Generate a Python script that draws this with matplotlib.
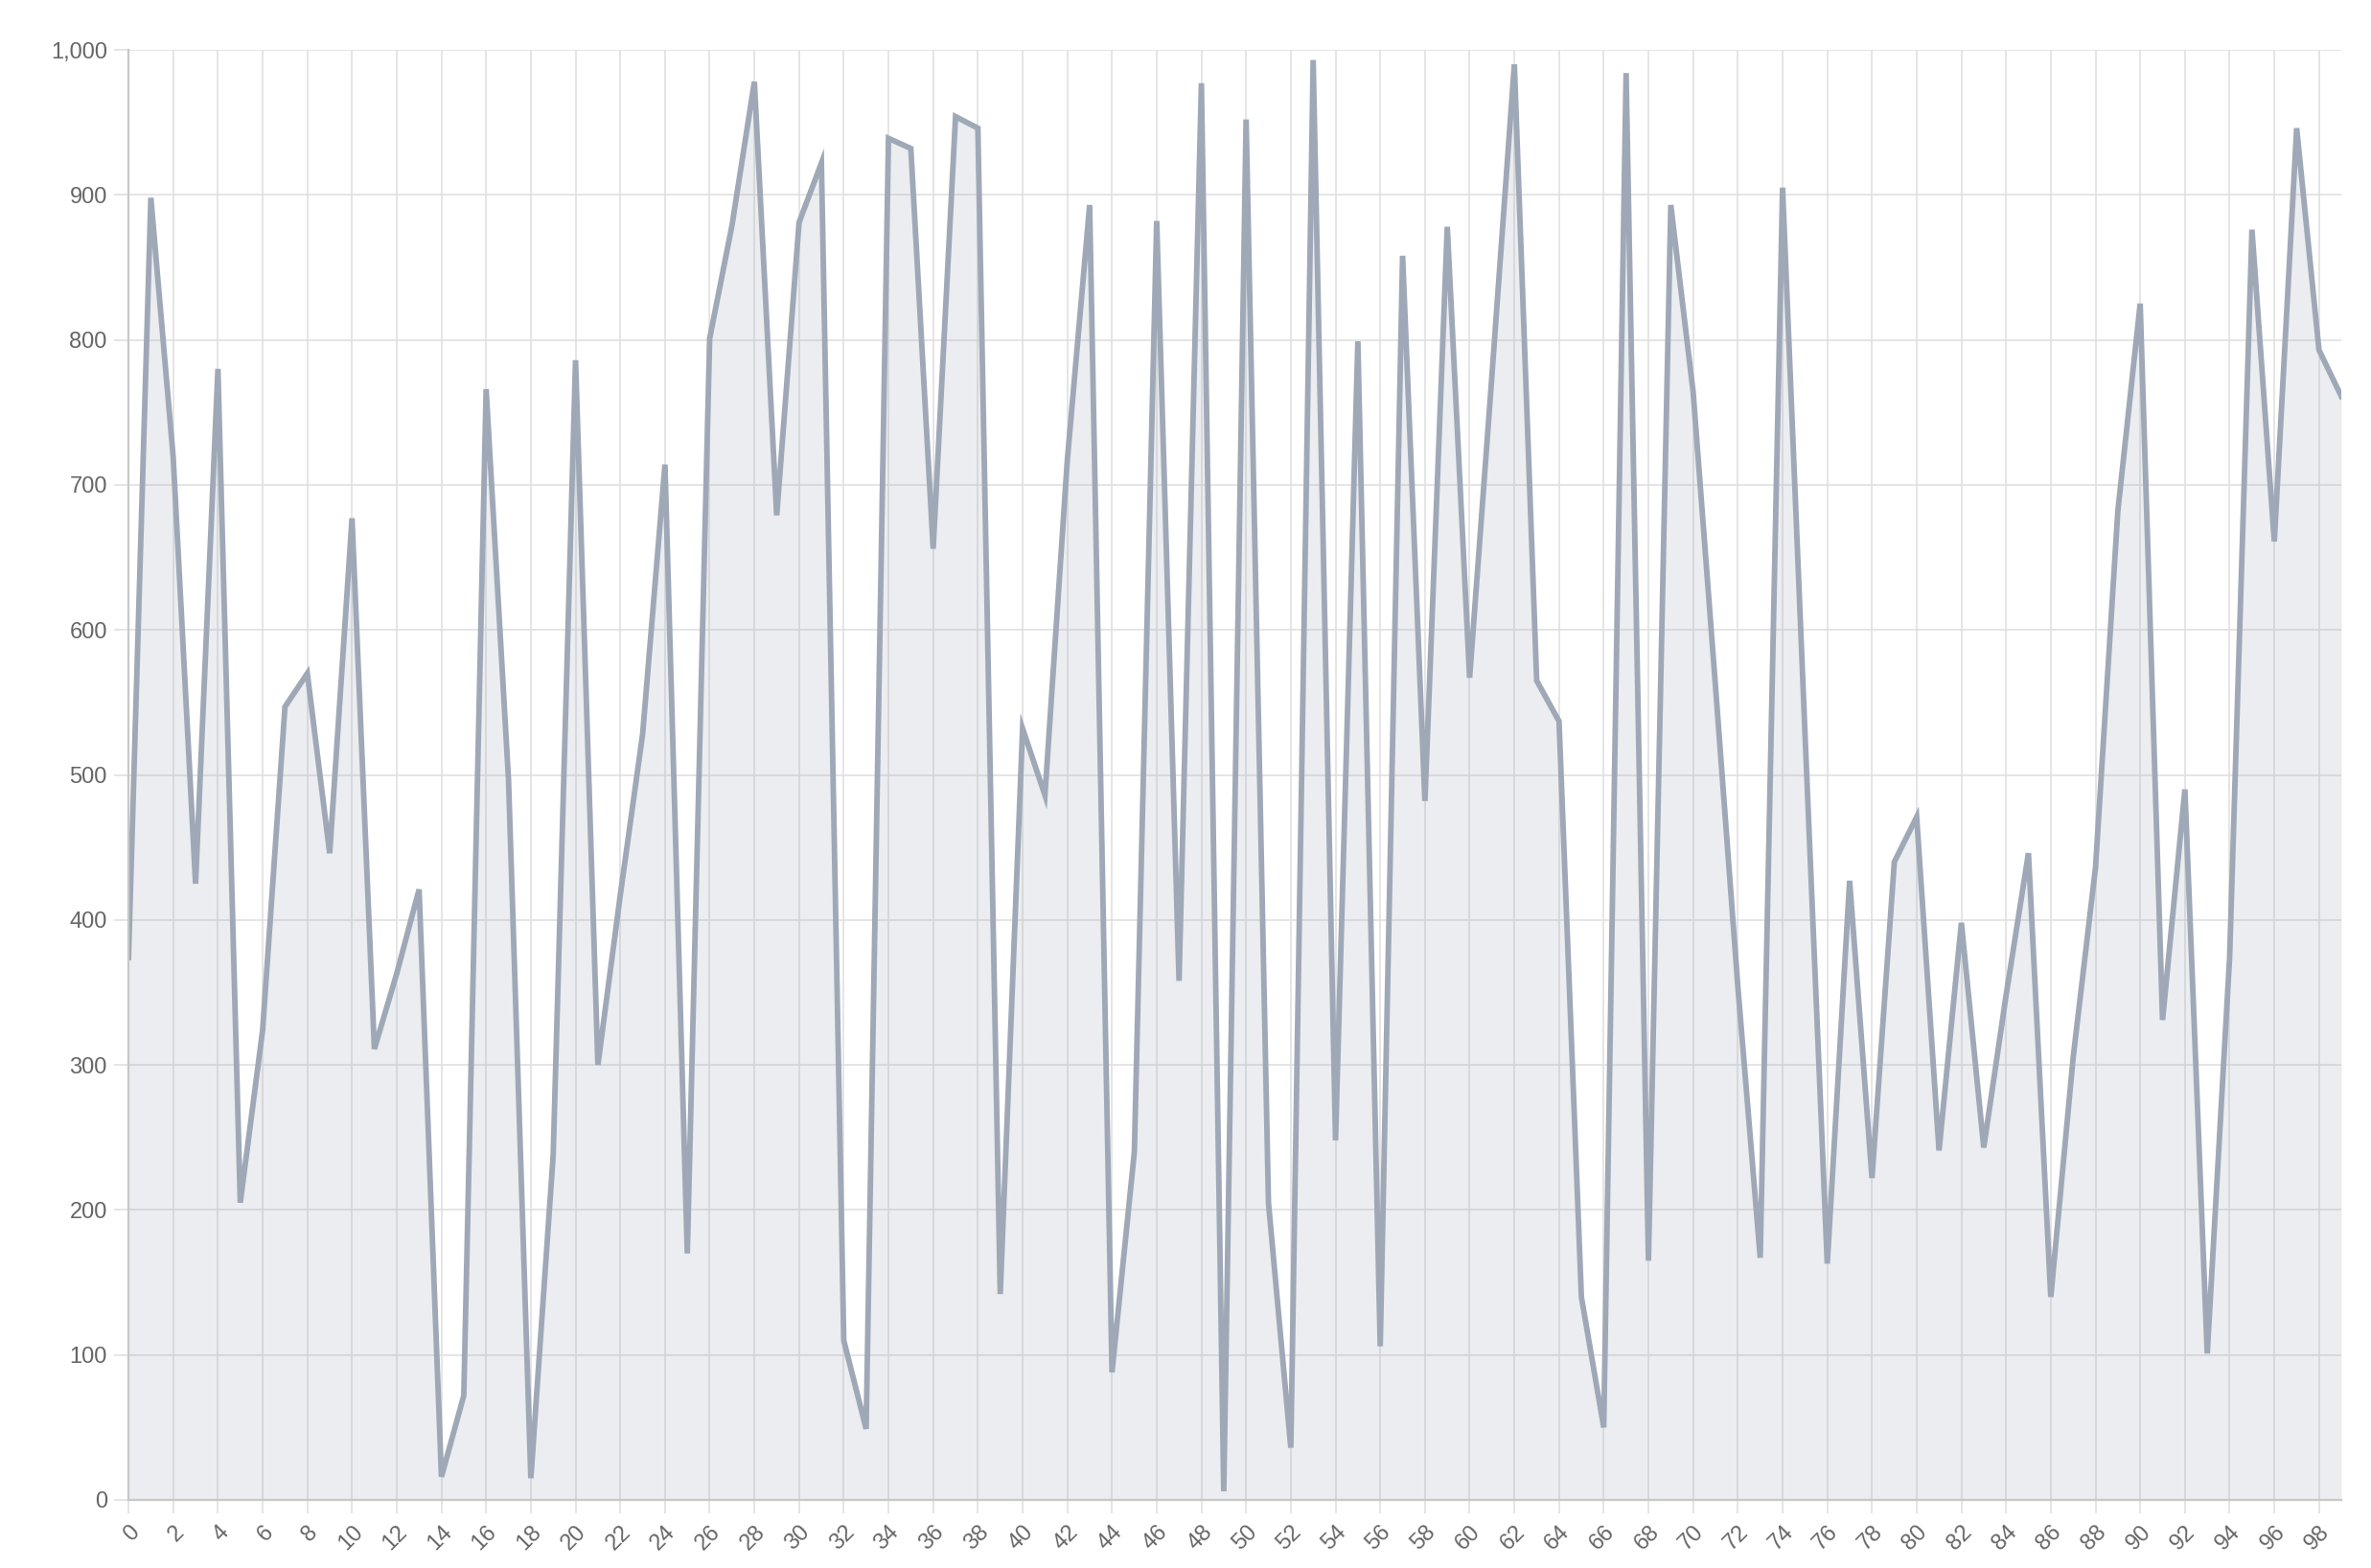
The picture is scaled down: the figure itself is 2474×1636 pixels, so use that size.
import matplotlib
matplotlib.use("Agg")
import matplotlib.pyplot as plt
import numpy as np

plt.rcParams['font.family'] = ['Liberation Sans', 'DejaVu Sans']

indices = list(range(100))
values = [
    374, 898, 719, 425, 780, 205, 324, 547, 570, 446,
    677, 311, 363, 421, 16, 72, 766, 497, 15, 238,
    786, 300, 417, 528, 714, 170, 801, 879, 978, 679,
    881, 922, 110, 49, 939, 932, 656, 954, 946, 142,
    532, 486, 717, 893, 88, 240, 882, 358, 977, 6,
    952, 205, 36, 993, 248, 799, 106, 858, 482, 878,
    567, 776, 990, 565, 537, 140, 50, 984, 165, 893,
    764, 561, 354, 167, 905, 530, 163, 427, 222, 440,
    471, 241, 398, 243, 348, 446, 140, 305, 436, 682,
    825, 331, 490, 101, 374, 876, 661, 946, 793, 761,
]
x_tick_labels = [str(i) for i in range(0, 100, 2)]
y_ticks = list(range(0, 1001, 100))
y_tick_labels = [f"{v:,}" for v in y_ticks]

line_color = '#9fa8b7'
fig = plt.figure(figsize=(24.74, 16.36), dpi=100)
ax = fig.add_axes([0.0542, 0.0434, 0.9333, 0.9248])

ax.fill_between(indices, values, 0, color=line_color, alpha=0.2, linewidth=0, zorder=2)
ax.plot(indices, values, color=line_color, linewidth=4.2, zorder=3, solid_joinstyle='miter')

ax.set_xlim(0, 99)
ax.set_ylim(0, 1000)
ax.set_xticks(range(0, 100, 2))
ax.set_xticklabels(x_tick_labels, rotation=45, ha='right', rotation_mode='anchor')
ax.set_yticks(y_ticks)
ax.set_yticklabels(y_tick_labels)

ax.grid(True, color='#e0e0e0', linewidth=1.2, zorder=0)
ax.set_axisbelow(True)
for s in ['top', 'right']:
    ax.spines[s].set_visible(False)
for s in ['left', 'bottom']:
    ax.spines[s].set_color('#c8c8c8')
    ax.spines[s].set_linewidth(1.6)
    ax.spines[s].set_zorder(4)

ax.tick_params(axis='both', colors='#e0e0e0', labelcolor='#666666', labelsize=17,
               width=1.2)
ax.tick_params(axis='x', length=10, pad=6)
ax.tick_params(axis='y', length=11, pad=5)

fig.savefig('out.png', dpi=100)
